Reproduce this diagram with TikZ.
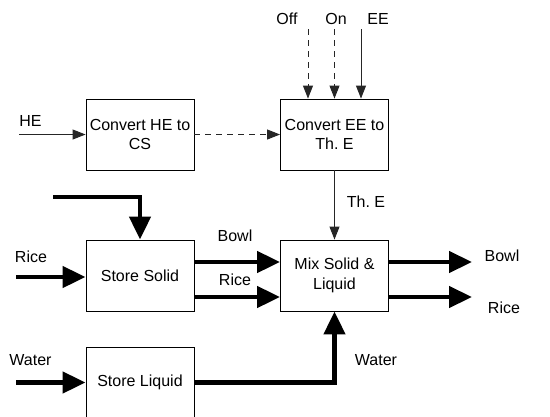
\documentclass[tikz,border=0pt]{standalone}
\usepackage{fontspec}
\setmainfont{Liberation Sans}
\usepackage{tikz}
\usetikzlibrary{arrows.meta, positioning, calc}
\frenchspacing
\tikzset{
  blockbox/.style={draw=black, line width=0.9pt, minimum width=108pt, minimum height=71pt,
    inner sep=1pt, align=center, font=\fontsize{16}{19.5}\selectfont},
  lbl/.style={font=\fontsize{16}{19.5}\selectfont, inner sep=0pt},
  thinflow/.style={draw=black!85, line width=0.9pt, -{Triangle[length=13pt, width=10pt]}},
  dashflow/.style={thinflow, dash pattern=on 6pt off 5pt},
  thickflow/.style={draw=black, line width=4.5pt, -{Triangle[length=23pt, width=21pt]}}
}
\begin{document}
\begin{tikzpicture}[x=1pt, y=-1pt]
\useasboundingbox (0,0) rectangle (550,416);
\clip (0,0) rectangle (550,416);
\fill[white] (0,0) rectangle (550,416);
% blocks
\node[blockbox] (conv1) at (140,134.5) {Convert HE to\\CS};
\node[blockbox] (conv2) at (334.5,134.5) {Convert EE to\\Th. E};
\node[blockbox] (solid) at (140,275.5) {Store Solid};
\node[blockbox] (mix) at (334.5,275.5) {Mix Solid \&\\Liquid};
\node[blockbox] (liquid) at (140,382.5) {Store Liquid};
% free ends
\coordinate (he in) at (19,134.5);
\coordinate (off in) at (308,29);
\coordinate (on in) at (334.5,29);
\coordinate (ee in) at (361,29);
\coordinate (feed in) at (53,197);
\coordinate (rice in) at (16,277);
\coordinate (water in) at (16,382.5);
\coordinate (bowl out) at (472,262);
\coordinate (rice out) at (472,297);
% labels
\node[lbl] (he lbl) at (30.5,121) {HE};
\node[lbl] (off lbl) at (287,19) {Off};
\node[lbl] (on lbl) at (336,19) {On};
\node[lbl] (ee lbl) at (378,19) {EE};
\node[lbl] (the lbl) at (366,202) {Th. E};
\node[lbl] (rice lbl) at (31,257) {Rice};
\node[lbl] (bowl mid lbl) at (235,236) {Bowl};
\node[lbl] (rice mid lbl) at (235,280) {Rice};
\node[lbl] (water lbl) at (30.5,360) {Water};
\node[lbl] (water mid lbl) at (376,360) {Water};
\node[lbl] (bowl out lbl) at (502,256) {Bowl};
\node[lbl] (rice out lbl) at (504,308) {Rice};
% energy flows
\draw[thinflow] (he in) -- (conv1.west);
\draw[dashflow] (conv1.east) -- (conv2.west);
\draw[dashflow] (off in) -- (off in |- conv2.north);
\draw[dashflow] (on in) -- (on in |- conv2.north);
\draw[thinflow] (ee in) -- (ee in |- conv2.north);
\draw[thinflow] (conv2.south) -- (mix.north);
% material flows
\draw[thickflow] (feed in) -| (solid.north);
\draw[thickflow] (rice in) -- (rice in -| solid.west);
\draw[thickflow] (solid.east |- 0,262) -- (mix.west |- 0,262);
\draw[thickflow] (solid.east |- 0,297) -- (mix.west |- 0,297);
\draw[thickflow] (mix.east |- bowl out) -- (bowl out);
\draw[thickflow] (mix.east |- rice out) -- (rice out);
\draw[thickflow] (water in) -- (liquid.west);
\draw[thickflow] (liquid.east) -| (mix.south);
\end{tikzpicture}
\end{document}
